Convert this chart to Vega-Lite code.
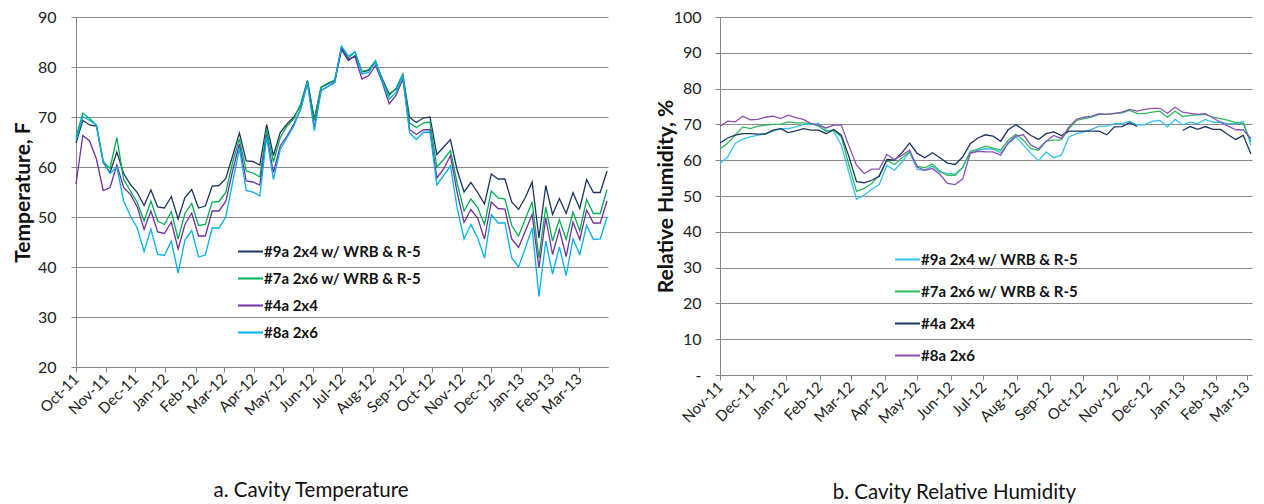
{
  "$schema": "https://vega.github.io/schema/vega-lite/v6.json",
  "padding": {"left": 12, "top": 9, "right": 0, "bottom": 0},
  "background": "white",
  "config": {
    "font": "Lato",
    "view": {"stroke": null},
    "axis": {
      "labelFont": "Lato", "labelFontSize": 16, "labelColor": "#222222",
      "titleFont": "Lato", "titleFontSize": 21, "titleFontWeight": "bold", "titleColor": "#111111",
      "domainColor": "#868686", "tickColor": "#868686", "gridColor": "#8a8a8a", "tickSize": 5
    },
    "legend": {
      "labelFont": "Lato", "labelFontSize": 15, "labelFontWeight": "bold", "labelColor": "#111111", "labelLimit": 0,
      "symbolType": "stroke", "symbolSize": 625, "symbolStrokeWidth": 2, "padding": 0, "labelOffset": 0
    }
  },
  "datasets": {
    "temp": [
      {"d":"2011-10-01","s9":64.8,"s7":66.0,"s4":56.6,"s8":65.4},
      {"d":"2011-10-08","s9":69.3,"s7":70.8,"s4":66.3,"s8":70.1},
      {"d":"2011-10-15","s9":68.4,"s7":69.7,"s4":65.2,"s8":69.3},
      {"d":"2011-10-22","s9":68.2,"s7":68.4,"s4":61.6,"s8":68.4},
      {"d":"2011-10-29","s9":60.9,"s7":61.1,"s4":55.3,"s8":61.2},
      {"d":"2011-11-05","s9":58.9,"s7":59.7,"s4":55.9,"s8":58.7},
      {"d":"2011-11-12","s9":63.0,"s7":65.9,"s4":60.4,"s8":60.0},
      {"d":"2011-11-19","s9":58.7,"s7":57.5,"s4":55.9,"s8":53.2},
      {"d":"2011-11-26","s9":56.5,"s7":55.2,"s4":54.5,"s8":50.2},
      {"d":"2011-12-03","s9":54.9,"s7":52.9,"s4":52.0,"s8":47.8},
      {"d":"2011-12-10","s9":52.3,"s7":49.2,"s4":47.5,"s8":43.1},
      {"d":"2011-12-17","s9":55.4,"s7":53.2,"s4":51.2,"s8":47.6},
      {"d":"2011-12-24","s9":52.0,"s7":49.2,"s4":47.0,"s8":42.5},
      {"d":"2011-12-31","s9":51.8,"s7":48.5,"s4":46.7,"s8":42.3},
      {"d":"2012-01-07","s9":54.1,"s7":51.1,"s4":49.0,"s8":45.2},
      {"d":"2012-01-14","s9":49.6,"s7":45.6,"s4":43.6,"s8":38.8},
      {"d":"2012-01-21","s9":53.9,"s7":50.7,"s4":48.5,"s8":45.4},
      {"d":"2012-01-28","s9":55.5,"s7":52.7,"s4":50.8,"s8":47.3},
      {"d":"2012-02-04","s9":51.8,"s7":48.3,"s4":46.2,"s8":42.0},
      {"d":"2012-02-11","s9":52.2,"s7":48.5,"s4":46.2,"s8":42.4},
      {"d":"2012-02-18","s9":56.2,"s7":53.0,"s4":51.2,"s8":47.8},
      {"d":"2012-02-25","s9":56.3,"s7":53.1,"s4":51.2,"s8":47.8},
      {"d":"2012-03-03","s9":57.7,"s7":54.9,"s4":53.1,"s8":50.0},
      {"d":"2012-03-10","s9":62.2,"s7":60.9,"s4":59.2,"s8":56.9},
      {"d":"2012-03-17","s9":66.8,"s7":65.6,"s4":64.6,"s8":63.7},
      {"d":"2012-03-24","s9":61.2,"s7":59.2,"s4":57.2,"s8":55.3},
      {"d":"2012-03-31","s9":61.1,"s7":58.8,"s4":57.0,"s8":55.0},
      {"d":"2012-04-07","s9":60.4,"s7":58.0,"s4":56.4,"s8":54.2},
      {"d":"2012-04-14","s9":68.5,"s7":67.5,"s4":66.5,"s8":66.0},
      {"d":"2012-04-21","s9":62.3,"s7":61.0,"s4":58.9,"s8":57.5},
      {"d":"2012-04-28","s9":66.9,"s7":65.9,"s4":64.2,"s8":63.5},
      {"d":"2012-05-05","s9":68.6,"s7":68.2,"s4":66.2,"s8":65.9},
      {"d":"2012-05-12","s9":70.0,"s7":69.6,"s4":68.6,"s8":68.2},
      {"d":"2012-05-19","s9":72.3,"s7":72.6,"s4":71.6,"s8":71.6},
      {"d":"2012-05-26","s9":77.3,"s7":77.2,"s4":76.8,"s8":76.8},
      {"d":"2012-06-02","s9":69.6,"s7":69.3,"s4":67.9,"s8":67.2},
      {"d":"2012-06-09","s9":75.9,"s7":76.0,"s4":75.3,"s8":75.3},
      {"d":"2012-06-16","s9":76.6,"s7":76.8,"s4":76.1,"s8":76.1},
      {"d":"2012-06-23","s9":77.3,"s7":77.4,"s4":76.9,"s8":77.0},
      {"d":"2012-06-30","s9":83.5,"s7":84.0,"s4":83.8,"s8":84.2},
      {"d":"2012-07-07","s9":81.3,"s7":81.8,"s4":81.6,"s8":82.2},
      {"d":"2012-07-14","s9":82.3,"s7":83.0,"s4":82.0,"s8":83.0},
      {"d":"2012-07-21","s9":79.0,"s7":79.1,"s4":77.6,"s8":78.6},
      {"d":"2012-07-28","s9":79.3,"s7":79.5,"s4":78.3,"s8":78.9},
      {"d":"2012-08-04","s9":81.0,"s7":81.3,"s4":80.3,"s8":81.0},
      {"d":"2012-08-11","s9":77.6,"s7":77.3,"s4":76.9,"s8":77.1},
      {"d":"2012-08-18","s9":74.6,"s7":74.3,"s4":72.6,"s8":73.6},
      {"d":"2012-08-25","s9":75.6,"s7":75.7,"s4":74.3,"s8":74.9},
      {"d":"2012-09-01","s9":78.4,"s7":78.6,"s4":77.6,"s8":78.3},
      {"d":"2012-09-08","s9":69.9,"s7":68.8,"s4":67.5,"s8":66.8},
      {"d":"2012-09-15","s9":68.9,"s7":67.9,"s4":66.5,"s8":65.5},
      {"d":"2012-09-22","s9":69.8,"s7":68.8,"s4":67.4,"s8":66.9},
      {"d":"2012-09-29","s9":70.0,"s7":69.0,"s4":67.5,"s8":67.0},
      {"d":"2012-10-06","s9":62.5,"s7":60.0,"s4":57.8,"s8":56.4},
      {"d":"2012-10-13","s9":64.0,"s7":61.5,"s4":59.6,"s8":58.3},
      {"d":"2012-10-20","s9":65.5,"s7":63.3,"s4":62.3,"s8":60.2},
      {"d":"2012-10-27","s9":59.3,"s7":56.7,"s4":54.8,"s8":51.7},
      {"d":"2012-11-03","s9":55.0,"s7":51.2,"s4":48.9,"s8":45.6},
      {"d":"2012-11-10","s9":56.9,"s7":53.6,"s4":51.5,"s8":48.5},
      {"d":"2012-11-17","s9":54.9,"s7":51.9,"s4":49.8,"s8":45.8},
      {"d":"2012-11-24","s9":52.6,"s7":48.5,"s4":45.6,"s8":41.8},
      {"d":"2012-12-01","s9":58.6,"s7":55.2,"s4":53.0,"s8":50.5},
      {"d":"2012-12-08","s9":57.6,"s7":53.8,"s4":51.7,"s8":48.8},
      {"d":"2012-12-15","s9":57.6,"s7":53.6,"s4":51.6,"s8":48.8},
      {"d":"2012-12-22","s9":53.0,"s7":48.3,"s4":45.6,"s8":41.8},
      {"d":"2012-12-29","s9":51.5,"s7":46.2,"s4":43.9,"s8":40.0},
      {"d":"2013-01-05","s9":53.9,"s7":49.6,"s4":47.2,"s8":43.8},
      {"d":"2013-01-12","s9":57.0,"s7":53.0,"s4":50.5,"s8":47.8},
      {"d":"2013-01-19","s9":45.8,"s7":41.8,"s4":39.8,"s8":34.1},
      {"d":"2013-01-26","s9":56.3,"s7":52.0,"s4":49.8,"s8":45.2},
      {"d":"2013-02-02","s9":50.5,"s7":45.2,"s4":42.5,"s8":38.6},
      {"d":"2013-02-09","s9":53.7,"s7":49.5,"s4":47.5,"s8":44.0},
      {"d":"2013-02-16","s9":50.7,"s7":45.5,"s4":42.1,"s8":38.3},
      {"d":"2013-02-23","s9":54.9,"s7":51.0,"s4":49.0,"s8":45.6},
      {"d":"2013-03-02","s9":51.7,"s7":47.2,"s4":45.5,"s8":42.5},
      {"d":"2013-03-09","s9":57.5,"s7":53.5,"s4":51.4,"s8":48.3},
      {"d":"2013-03-16","s9":54.9,"s7":50.7,"s4":48.8,"s8":45.5},
      {"d":"2013-03-23","s9":54.9,"s7":50.7,"s4":48.8,"s8":45.6},
      {"d":"2013-03-30","s9":59.2,"s7":55.5,"s4":53.2,"s8":50.0}
    ],
    "rh": [
      {"d":"2011-11-01","s9":59.1,"s7":63.1,"s4":64.8,"s8":69.5},
      {"d":"2011-11-08","s9":60.9,"s7":64.7,"s4":66.2,"s8":70.9},
      {"d":"2011-11-15","s9":64.7,"s7":67.0,"s4":67.0,"s8":70.7},
      {"d":"2011-11-22","s9":65.9,"s7":69.3,"s4":67.4,"s8":72.3},
      {"d":"2011-11-29","s9":66.5,"s7":68.8,"s4":67.4,"s8":71.3},
      {"d":"2011-12-06","s9":67.0,"s7":69.5,"s4":67.3,"s8":71.4},
      {"d":"2011-12-13","s9":67.4,"s7":69.8,"s4":67.3,"s8":72.0},
      {"d":"2011-12-20","s9":68.1,"s7":70.0,"s4":68.4,"s8":72.3},
      {"d":"2011-12-27","s9":68.8,"s7":70.0,"s4":68.8,"s8":71.6},
      {"d":"2012-01-03","s9":68.8,"s7":70.7,"s4":67.7,"s8":72.6},
      {"d":"2012-01-10","s9":69.3,"s7":70.4,"s4":68.2,"s8":71.9},
      {"d":"2012-01-17","s9":70.0,"s7":70.4,"s4":68.8,"s8":71.4},
      {"d":"2012-01-24","s9":70.0,"s7":70.2,"s4":68.4,"s8":70.2},
      {"d":"2012-01-31","s9":70.3,"s7":69.5,"s4":68.4,"s8":69.8},
      {"d":"2012-02-07","s9":68.4,"s7":68.1,"s4":67.4,"s8":69.0},
      {"d":"2012-02-14","s9":68.1,"s7":68.4,"s4":68.6,"s8":69.8},
      {"d":"2012-02-21","s9":64.2,"s7":66.5,"s4":67.0,"s8":69.8},
      {"d":"2012-02-28","s9":56.5,"s7":58.6,"s4":61.0,"s8":64.0},
      {"d":"2012-03-06","s9":49.1,"s7":51.3,"s4":54.0,"s8":58.6},
      {"d":"2012-03-13","s9":50.2,"s7":52.1,"s4":53.7,"s8":56.3},
      {"d":"2012-03-20","s9":51.9,"s7":53.5,"s4":54.4,"s8":57.5},
      {"d":"2012-03-27","s9":53.2,"s7":55.8,"s4":55.5,"s8":57.5},
      {"d":"2012-04-03","s9":58.6,"s7":60.0,"s4":60.2,"s8":61.6},
      {"d":"2012-04-10","s9":57.2,"s7":58.8,"s4":60.0,"s8":60.2},
      {"d":"2012-04-17","s9":59.5,"s7":60.7,"s4":62.1,"s8":61.4},
      {"d":"2012-04-24","s9":62.3,"s7":62.3,"s4":64.8,"s8":62.8},
      {"d":"2012-05-01","s9":57.4,"s7":58.3,"s4":61.9,"s8":58.1},
      {"d":"2012-05-08","s9":57.2,"s7":57.9,"s4":60.7,"s8":57.2},
      {"d":"2012-05-15","s9":58.4,"s7":58.9,"s4":62.1,"s8":57.7},
      {"d":"2012-05-22","s9":56.6,"s7":56.9,"s4":60.7,"s8":56.0},
      {"d":"2012-05-29","s9":56.3,"s7":55.8,"s4":59.2,"s8":53.5},
      {"d":"2012-06-05","s9":56.1,"s7":55.8,"s4":58.8,"s8":53.2},
      {"d":"2012-06-12","s9":58.0,"s7":58.0,"s4":60.9,"s8":54.8},
      {"d":"2012-06-19","s9":62.1,"s7":62.5,"s4":64.6,"s8":61.9},
      {"d":"2012-06-26","s9":62.8,"s7":63.1,"s4":66.2,"s8":62.5},
      {"d":"2012-07-03","s9":63.2,"s7":63.9,"s4":67.1,"s8":62.3},
      {"d":"2012-07-10","s9":63.1,"s7":63.4,"s4":66.7,"s8":62.3},
      {"d":"2012-07-17","s9":62.1,"s7":62.8,"s4":65.3,"s8":61.4},
      {"d":"2012-07-24","s9":64.6,"s7":65.6,"s4":68.5,"s8":64.9},
      {"d":"2012-07-31","s9":66.5,"s7":67.2,"s4":69.9,"s8":66.7},
      {"d":"2012-08-07","s9":64.2,"s7":65.6,"s4":68.5,"s8":67.1},
      {"d":"2012-08-14","s9":61.9,"s7":63.2,"s4":66.9,"s8":64.2},
      {"d":"2012-08-21","s9":59.8,"s7":62.8,"s4":65.8,"s8":63.2},
      {"d":"2012-08-28","s9":62.3,"s7":65.3,"s4":67.4,"s8":65.3},
      {"d":"2012-09-04","s9":60.7,"s7":65.6,"s4":67.9,"s8":66.9},
      {"d":"2012-09-11","s9":61.4,"s7":65.7,"s4":66.9,"s8":66.0},
      {"d":"2012-09-18","s9":66.5,"s7":68.8,"s4":68.1,"s8":69.3},
      {"d":"2012-09-25","s9":67.4,"s7":71.1,"s4":68.1,"s8":71.4},
      {"d":"2012-10-02","s9":67.9,"s7":71.6,"s4":68.1,"s8":72.0},
      {"d":"2012-10-09","s9":68.6,"s7":72.0,"s4":68.1,"s8":72.3},
      {"d":"2012-10-16","s9":69.5,"s7":72.8,"s4":68.1,"s8":73.0},
      {"d":"2012-10-23","s9":69.5,"s7":72.8,"s4":67.1,"s8":72.8},
      {"d":"2012-10-30","s9":70.2,"s7":73.0,"s4":69.3,"s8":73.1},
      {"d":"2012-11-06","s9":70.2,"s7":73.2,"s4":69.4,"s8":73.4},
      {"d":"2012-11-13","s9":70.8,"s7":73.9,"s4":70.5,"s8":74.2},
      {"d":"2012-11-20","s9":69.9,"s7":73.1,"s4":69.4,"s8":73.7},
      {"d":"2012-11-27","s9":69.9,"s7":73.0,"s4":null,"s8":74.2},
      {"d":"2012-12-04","s9":70.9,"s7":73.4,"s4":null,"s8":74.5},
      {"d":"2012-12-11","s9":71.1,"s7":73.7,"s4":null,"s8":74.5},
      {"d":"2012-12-18","s9":69.3,"s7":72.0,"s4":null,"s8":73.1},
      {"d":"2012-12-25","s9":71.4,"s7":73.7,"s4":null,"s8":74.8},
      {"d":"2013-01-01","s9":69.9,"s7":72.2,"s4":68.3,"s8":73.4},
      {"d":"2013-01-08","s9":70.6,"s7":72.5,"s4":69.4,"s8":73.1},
      {"d":"2013-01-15","s9":70.2,"s7":72.7,"s4":68.6,"s8":72.8},
      {"d":"2013-01-22","s9":71.4,"s7":72.8,"s4":69.4,"s8":73.0},
      {"d":"2013-01-29","s9":70.6,"s7":72.0,"s4":68.6,"s8":71.8},
      {"d":"2013-02-05","s9":70.6,"s7":71.6,"s4":68.6,"s8":70.6},
      {"d":"2013-02-12","s9":70.2,"s7":71.1,"s4":67.1,"s8":69.5},
      {"d":"2013-02-19","s9":70.2,"s7":70.5,"s4":65.8,"s8":68.5},
      {"d":"2013-02-26","s9":70.8,"s7":70.2,"s4":66.9,"s8":68.5},
      {"d":"2013-03-05","s9":64.2,"s7":65.1,"s4":61.7,"s8":66.0}
    ]
  },
  "hconcat": [
    {
      "width": 532,
      "height": 350,
      "data": {"name": "temp"},
      "transform": [{"fold": ["s9", "s7", "s4", "s8"], "as": ["s", "v"]}],
      "title": {"text": "a. Cavity Temperature", "orient": "bottom", "frame": "bounds", "anchor": "middle", "offset": 63, "font": "Lato", "fontSize": 20.5, "fontWeight": "normal", "color": "#111111"},
      "mark": {"type": "line", "strokeWidth": 1.3, "invalid": "break-paths-show-domains"},
      "encoding": {
        "x": {
          "field": "d", "type": "temporal",
          "scale": {"type": "utc", "domain": [{"year": 2011, "month": 10, "date": 1, "utc": true}, {"year": 2013, "month": 3, "date": 31, "utc": true}]},
          "axis": {"title": null, "format": "%b-%y", "tickCount": {"interval": "month", "step": 1}, "labelAngle": -45, "labelAlign": "right", "labelBaseline": "middle", "labelFontSize": 15, "labelPadding": 4, "grid": false, "labelOverlap": false, "labelBound": false, "labelFlush": false}
        },
        "y": {
          "field": "v", "type": "quantitative",
          "scale": {"domain": [20, 90], "nice": false, "zero": false},
          "axis": {"title": "Temperature, F", "values": [20, 30, 40, 50, 60, 70, 80, 90], "grid": true, "labelPadding": 15, "titlePadding": 4}
        },
        "color": {
          "field": "s", "type": "nominal",
          "scale": {"domain": ["s9", "s7", "s4", "s8"], "range": ["#1c3461", "#00b050", "#7030a0", "#00b0f0"]},
          "legend": {
            "title": null, "orient": "none", "legendX": 161, "legendY": 221, "rowPadding": 5,
            "labelExpr": "datum.value == 's9' ? '#9a 2x4 w/ WRB & R-5' : datum.value == 's7' ? '#7a 2x6 w/ WRB & R-5' : datum.value == 's4' ? '#4a 2x4' : '#8a 2x6'"
          }
        }
      }
    },
    {
      "width": 532,
      "height": 358,
      "data": {"name": "rh"},
      "transform": [{"fold": ["s9", "s7", "s4", "s8"], "as": ["s", "v"]}],
      "title": {"text": "b. Cavity Relative Humidity", "orient": "bottom", "frame": "bounds", "anchor": "middle", "offset": 57, "font": "Lato", "fontSize": 20.5, "fontWeight": "normal", "color": "#111111"},
      "mark": {"type": "line", "strokeWidth": 1.3, "invalid": "break-paths-show-domains"},
      "encoding": {
        "x": {
          "field": "d", "type": "temporal",
          "scale": {"type": "utc", "domain": [{"year": 2011, "month": 11, "date": 1, "utc": true}, {"year": 2013, "month": 3, "date": 6, "utc": true}]},
          "axis": {"title": null, "format": "%b-%y", "tickCount": {"interval": "month", "step": 1}, "labelAngle": -45, "labelAlign": "right", "labelBaseline": "middle", "labelFontSize": 15, "labelPadding": 4, "grid": false, "labelOverlap": false, "labelBound": false, "labelFlush": false}
        },
        "y": {
          "field": "v", "type": "quantitative",
          "scale": {"domain": [0, 100], "nice": false},
          "axis": {"title": "Relative Humidity, %", "values": [0, 10, 20, 30, 40, 50, 60, 70, 80, 90, 100], "grid": true, "labelPadding": 14, "titlePadding": -3, "labelExpr": "datum.value == 0 ? '-' : datum.label"}
        },
        "color": {
          "field": "s", "type": "nominal",
          "scale": {"domain": ["s9", "s7", "s4", "s8"], "range": ["#33c0f2", "#2cb85c", "#1c3461", "#8a50b8"]},
          "legend": {
            "title": null, "orient": "none", "legendX": 174, "legendY": 229, "rowPadding": 10,
            "labelExpr": "datum.value == 's9' ? '#9a 2x4 w/ WRB & R-5' : datum.value == 's7' ? '#7a 2x6 w/ WRB & R-5' : datum.value == 's4' ? '#4a 2x4' : '#8a 2x6'"
          }
        }
      }
    }
  ],
  "spacing": 45,
  "resolve": {"scale": {"color": "independent", "x": "independent", "y": "independent"}, "legend": {"color": "independent"}}
}
